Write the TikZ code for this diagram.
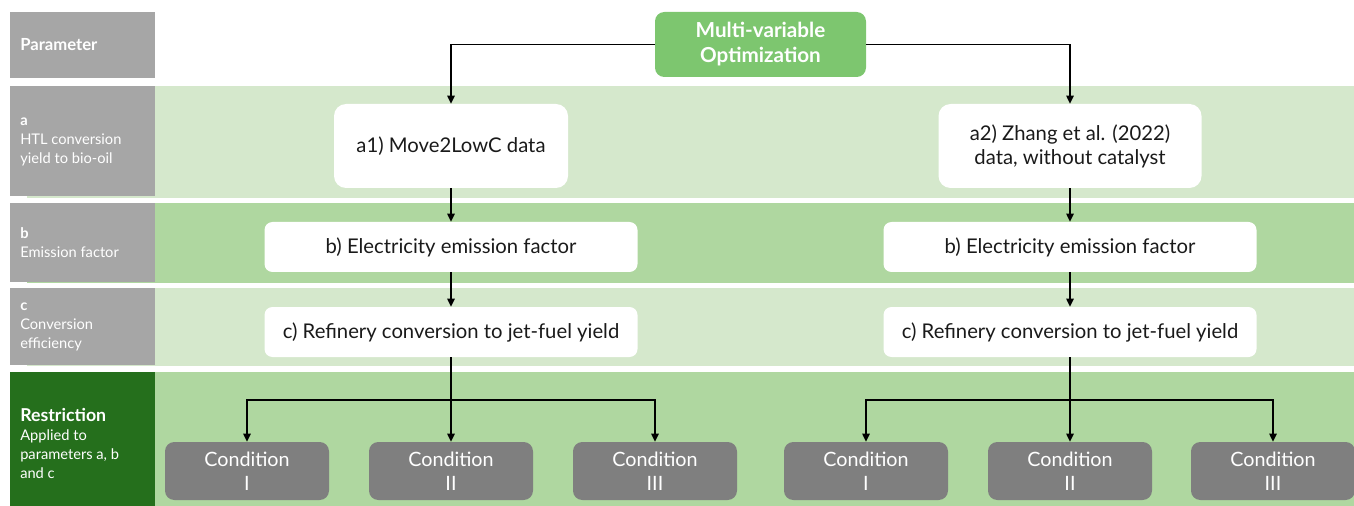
\documentclass[tikz,border=0pt]{standalone}
\usepackage{fontspec}
\setmainfont{Lato}
\usetikzlibrary{arrows.meta}
\definecolor{lgreen}{HTML}{D5E8CC}
\definecolor{mgreen}{HTML}{AFD7A0}
\definecolor{tgreen}{HTML}{7DC66F}
\definecolor{dgreen}{HTML}{256F1C}
\definecolor{lgray}{HTML}{A6A6A6}
\definecolor{cgray}{HTML}{7F7F7F}
\definecolor{ink}{HTML}{1A1A1A}
\tikzset{
  arr/.style={draw=black, line width=1.1pt, -{Triangle[length=6pt,width=5.5pt]}},
  whitebox/.style={fill=white, text=ink, align=center, font=\fontsize{15.2}{18}\selectfont, inner sep=0pt},
  condbox/.style={fill=cgray, text=white, align=center, rounded corners=7pt, minimum width=123pt, minimum height=43.5pt, inner sep=0pt, font=\fontsize{14.8}{18}\selectfont},
  lbl/.style={anchor=west, align=left, text=white, inner sep=0pt, font=\fontsize{11}{14.25}\selectfont},
}
\begin{document}
\begin{tikzpicture}[x=0.75pt,y=-0.75pt]
\useasboundingbox (0,0) rectangle (1354,506);
% bands
\fill[lgreen] (27,86) rectangle (1354,198);
\fill[mgreen] (27,203) rectangle (1354,283);
\fill[lgreen] (27,288) rectangle (1354,366);
\fill[mgreen] (27,372) rectangle (1354,506);
% label boxes
\fill[lgray] (10,12) rectangle (155,78);
\fill[lgray] (10,86) rectangle (155,196);
\fill[lgray] (10,203) rectangle (155,282);
\fill[lgray] (10,288) rectangle (155,365);
\fill[dgreen] (10,372) rectangle (155,506);
\node[lbl] (lp) at (20,45) {\fontsize{12.5}{14.25}\selectfont\bfseries Parameter};
\node[lbl] (la) at (20,142) {\textbf{a}\\HTL conversion\\yield to bio-oil};
\node[lbl] (lb) at (20,243) {\textbf{b}\\Emission factor};
\node[lbl] (lc) at (20,327) {\textbf{c}\\Conversion\\efficiency};
\node[lbl] (lr) at (20,443) {{\fontsize{13.3}{14.25}\selectfont\bfseries Restriction}\\Applied to\\parameters a, b\\and c};
% top box
\node[fill=tgreen, text=white, rounded corners=7pt, minimum width=158.25pt, minimum height=48.75pt, align=center, inner sep=0pt, font=\fontsize{15.5}{18.75}\selectfont\bfseries] (top) at (760.5,44.5) {Multi-variable\\Optimization};
% column boxes
\node[whitebox, rounded corners=9pt, minimum width=175.5pt, minimum height=63pt] (a1) at (451,146) {a1) Move2LowC data};
\node[whitebox, rounded corners=9pt, minimum width=197.25pt, minimum height=63pt] (a2) at (1070,146) {a2) Zhang et al. (2022)\\data, without catalyst};
\node[whitebox, rounded corners=6pt, minimum width=279.75pt, minimum height=37.5pt] (b1) at (451,247) {b) Electricity emission factor};
\node[whitebox, rounded corners=6pt, minimum width=279.75pt, minimum height=37.5pt] (b2) at (1070,247) {b) Electricity emission factor};
\node[whitebox, rounded corners=6pt, minimum width=279.75pt, minimum height=37.5pt] (c1) at (451,332) {c) Refinery conversion to jet-fuel yield};
\node[whitebox, rounded corners=6pt, minimum width=279.75pt, minimum height=37.5pt] (c2) at (1070,332) {c) Refinery conversion to jet-fuel yield};
% conditions
\node[condbox] (l1) at (247,471) {Condition\\I};
\node[condbox] (l2) at (451,471) {Condition\\II};
\node[condbox] (l3) at (655,471) {Condition\\III};
\node[condbox] (r1) at (866,471) {Condition\\I};
\node[condbox] (r2) at (1070,471) {Condition\\II};
\node[condbox] (r3) at (1273,471) {Condition\\III};
% connectors
\draw[arr] (top.west) -| (a1.north);
\draw[arr] (top.east) -| (a2.north);
\draw[arr] (a1) -- (b1);
\draw[arr] (a2) -- (b2);
\draw[arr] (b1) -- (c1);
\draw[arr] (b2) -- (c2);
\draw[arr] (c1) -- (l2);
\draw[arr] (c2) -- (r2);
\coordinate (jl) at (451,400);
\coordinate (jr) at (1070,400);
\draw[arr] (jl) -| (l1.north);
\draw[arr] (jl) -| (l3.north);
\draw[arr] (jr) -| (r1.north);
\draw[arr] (jr) -| (r3.north);
\end{tikzpicture}
\end{document}
